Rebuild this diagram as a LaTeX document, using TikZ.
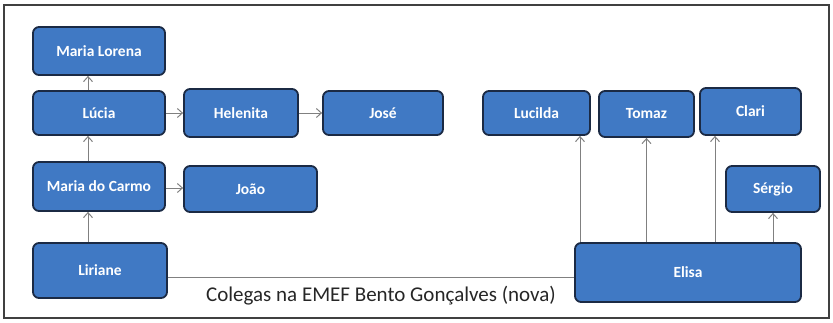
\documentclass[tikz,border=0pt]{standalone}
\usepackage{fontspec}
\setmainfont{Carlito}
\usetikzlibrary{arrows.meta}
\definecolor{boxfill}{HTML}{4079C4}
\definecolor{boxline}{HTML}{1B2A44}
\definecolor{arrgray}{HTML}{808080}
\tikzset{
  box/.style={draw=boxline, line width=1.8pt, fill=boxfill, rounded corners=6pt,
    text=white, font=\fontsize{15.5}{18}\selectfont\bfseries, inner sep=0pt},
  arr/.style={draw=arrgray, line width=1pt, -{Straight Barb[length=5pt,width=9pt]}},
  plain/.style={draw=arrgray, line width=1pt},
}
\begin{document}
\begin{tikzpicture}[x=1pt,y=-1pt]
\useasboundingbox (0,0) rectangle (833,322);
\draw[line width=1.8pt, draw=black!75] (4,5) rectangle (829,318);
\node[box, minimum width=132pt, minimum height=48pt] (ml) at (99,51) {Maria Lorena};
\node[box, minimum width=132pt, minimum height=44pt] (lu) at (99,113) {Lúcia};
\node[box, minimum width=114pt, minimum height=48pt] (he) at (241,113) {Helenita};
\node[box, minimum width=120pt, minimum height=44pt] (jo) at (383,113) {José};
\node[box, minimum width=132pt, minimum height=49pt] (mc) at (99,186.5) {Maria do Carmo};
\node[box, minimum width=133pt, minimum height=46pt] (ja) at (250.5,189) {João};
\node[box, minimum width=134pt, minimum height=55pt] (li) at (100,270.5) {Liriane};
\node[box, minimum width=107pt, minimum height=44pt] (lc) at (536.5,113) {Lucilda};
\node[box, minimum width=95pt, minimum height=46pt] (to) at (646.5,114) {Tomaz};
\node[box, minimum width=101pt, minimum height=47pt] (cl) at (750.5,111.5) {Clari};
\node[box, minimum width=94pt, minimum height=46pt] (se) at (773,189) {Sérgio};
\node[box, minimum width=226pt, minimum height=59pt] (el) at (688,272.5) {Elisa};
% guide coordinates
\coordinate (xl) at (88,0);
\coordinate (xlc) at (580,0);
\coordinate (xcl) at (715,0);
\coordinate (yline) at (0,277);
\coordinate (ymc) at (0,188);
% left column
\draw[arr] (li.north -| xl) -- (mc.south -| xl);
\draw[arr] (mc.north -| xl) -- (lu.south -| xl);
\draw[arr] (lu.north -| xl) -- (ml.south -| xl);
\draw[arr] (lu) -- (he);
\draw[arr] (he) -- (jo);
\draw[arr] (mc.east |- ymc) -- (ja.west |- ymc);
% right side
\draw[arr] (el.north -| xlc) -- (lc.south -| xlc);
\draw[arr] (el.north -| to.south) -- (to.south);
\draw[arr] (el.north -| xcl) -- (cl.south -| xcl);
\draw[arr] (el.north -| se.south) -- (se.south);
% colleagues line
\draw[plain] (li.east |- yline) -- (el.west |- yline);
\node[font=\fontsize{21}{24}\selectfont, text=black!85, inner sep=0pt] (lab) at (381,296) {Colegas na EMEF Bento Gonçalves (nova)};
\end{tikzpicture}
\end{document}
